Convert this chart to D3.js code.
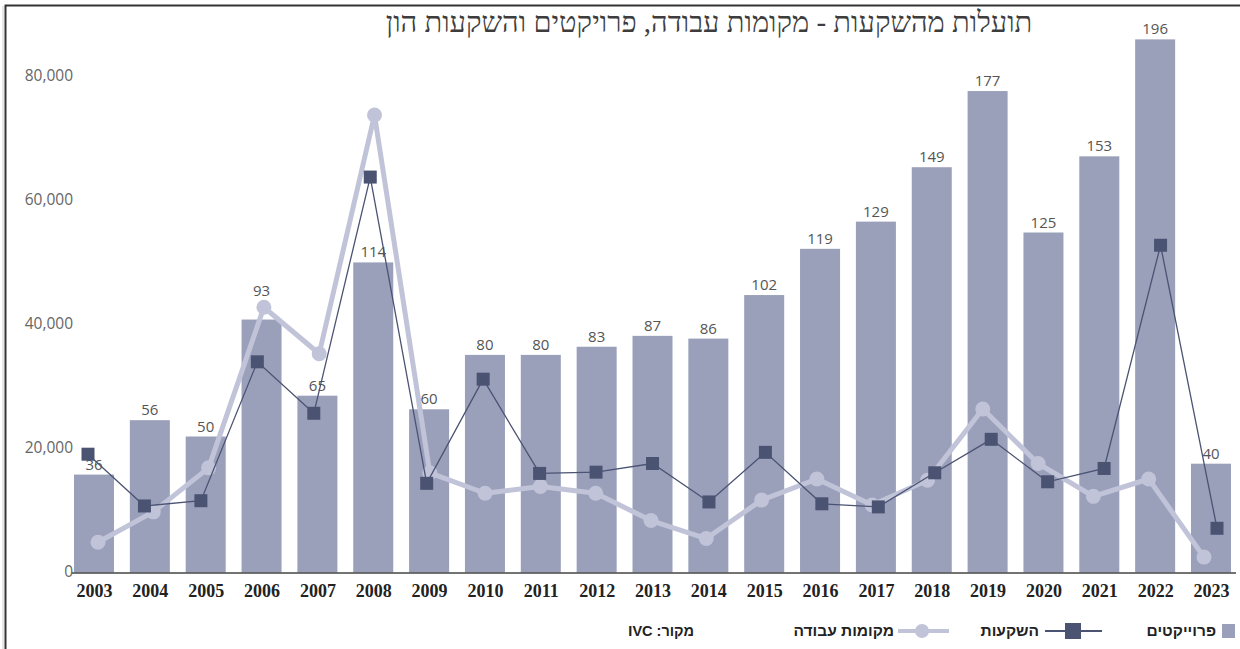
<!DOCTYPE html>
<html>
<head>
<meta charset="utf-8">
<script src="https://cdn.jsdelivr.net/npm/d3@7"></script>
<style>
  body { margin: 0; background: #fff; }
  svg { display: block; }
  .heb { direction: rtl; unicode-bidi: embed; }
</style>
</head>
<body>
<svg id="chart" width="1240" height="649"></svg>
<script>
// data
var years = ["2003","2004","2005","2006","2007","2008","2009","2010","2011","2012","2013",
             "2014","2015","2016","2017","2018","2019","2020","2021","2022","2023"];
var projects = [36,56,50,93,65,114,60,80,80,83,87,86,102,119,129,149,177,125,153,196,40];
var investments = [19000,10650,11500,33900,25600,63700,14300,31100,15900,16100,17500,
                   11300,19300,11000,10500,16000,21400,14550,16700,52700,7050];
var jobs = [4800,9700,16800,42700,35200,73700,16000,12700,13800,12700,8300,
            5400,11600,15000,10800,14800,26300,17500,12200,15000,2400];
var yTicks = [0,20000,40000,60000,80000];

var title = "תועלות מהשקעות - מקומות עבודה, פרויקטים והשקעות הון";
var legendItems = [
  {name: "פרוייקטים", kind: "bar"},
  {name: "השקעות", kind: "square"},
  {name: "מקומות עבודה", kind: "circle"}
];
var source = "מקור: IVC";

var barColor = "#9a9fba", darkColor = "#4b5373", lightColor = "#c1c4d8";

var svg = d3.select("#chart");

// frame
svg.append("line").attr("x1",3).attr("x2",3).attr("y1",6).attr("y2",649)
   .attr("stroke","#d0d0d0").attr("stroke-width",1);
svg.append("path").attr("d","M5.5,649 V5.5 H1240")
   .attr("fill","none").attr("stroke","#333").attr("stroke-width",2);

// scales (the bars and the two lines sit on slightly different x positions in the original)
var xBar = d3.scalePoint().domain(years).range([94, 1211]);
var xJobs = d3.scalePoint().domain(years).range([98, 1204]);
var xInv = d3.scalePoint().domain(years).range([88, 1217]);
var y = d3.scaleLinear().domain([0, 80000]).range([572, 76]);
var yBar = d3.scaleLinear().domain([0, 200]).range([572.5, 28.5]);
var barW = 40;

// y axis labels
var yAxis = svg.append("g").attr("transform","translate(73,0)")
  .call(d3.axisLeft(y).tickValues(yTicks).tickFormat(d3.format(",")).tickSize(0).tickPadding(0));
yAxis.select(".domain").remove();
yAxis.selectAll("text").attr("font-family","'Open Sans', sans-serif").attr("font-size",15.5)
  .attr("fill","#666");

// bars
svg.append("g").selectAll("rect").data(projects).enter().append("rect")
  .attr("x", function(d,i){ return xBar(years[i]) - barW/2; })
  .attr("y", function(d){ return yBar(d); })
  .attr("width", barW)
  .attr("height", function(d){ return yBar(0) - yBar(d); })
  .attr("fill", barColor);

// value labels; pushed above the jobs marker when it sits on the bar top
svg.append("g").selectAll("text").data(projects).enter().append("text")
  .attr("x", function(d,i){ return xBar(years[i]); })
  .attr("y", function(d,i){
    var top = yBar(d), cy = y(jobs[i]);
    if (cy > top - 22 && cy < top + 12) return cy - 11;
    return top - 5;
  })
  .attr("text-anchor","middle")
  .attr("font-family","'Open Sans', sans-serif").attr("font-size",15).attr("fill","#555")
  .text(function(d){ return d; });

// x axis
var xAxis = svg.append("g").attr("transform","translate(0,573)")
  .call(d3.axisBottom(xBar).tickSize(0).tickPadding(11));
xAxis.select(".domain").remove();
xAxis.selectAll("text").attr("font-family","'Liberation Serif', serif").attr("font-weight","bold")
  .attr("font-size",18).attr("fill","#222");
svg.append("line")
  .attr("x1", xBar(years[0]) - 22).attr("x2", xBar(years[years.length-1]) + 25)
  .attr("y1", 573).attr("y2", 573).attr("stroke","#444").attr("stroke-width",1.5);

// jobs line
var jobsLine = d3.line().x(function(d,i){ return xJobs(years[i]); }).y(function(d){ return y(d); });
svg.append("path").datum(jobs).attr("d", jobsLine)
  .attr("fill","none").attr("stroke",lightColor).attr("stroke-width",5).attr("stroke-linejoin","round");
svg.append("g").selectAll("circle").data(jobs).enter().append("circle")
  .attr("cx", function(d,i){ return xJobs(years[i]); })
  .attr("cy", function(d){ return y(d); })
  .attr("r", 7.5).attr("fill", lightColor);

// investments line
var invLine = d3.line().x(function(d,i){ return xInv(years[i]); }).y(function(d){ return y(d); });
svg.append("path").datum(investments).attr("d", invLine)
  .attr("fill","none").attr("stroke",darkColor).attr("stroke-width",1.3);
svg.append("g").selectAll("rect").data(investments).enter().append("rect")
  .attr("x", function(d,i){ return xInv(years[i]) - 6.5; })
  .attr("y", function(d){ return y(d) - 6.5; })
  .attr("width", 13).attr("height", 13).attr("fill", darkColor);

// title
svg.append("text").attr("class","heb")
  .attr("x", 709).attr("y", 32).attr("text-anchor","middle")
  .attr("font-family","'Liberation Serif', serif").attr("font-size",29).attr("fill","#3d3d3d")
  .text(title);

// legend
var lg = svg.append("g").attr("font-family","'Liberation Sans', Arial, sans-serif")
  .attr("font-weight","bold").attr("font-size",15.5).attr("fill","#222");
var ly = 631;
// projects
lg.append("rect").attr("x",1222).attr("y",ly-7).attr("width",13).attr("height",14).attr("fill",barColor);
lg.append("text").attr("class","heb").attr("x",1216).attr("y",ly+5).attr("text-anchor","start").text(legendItems[0].name);
// investments
lg.append("line").attr("x1",1045).attr("x2",1102).attr("y1",ly).attr("y2",ly).attr("stroke",darkColor).attr("stroke-width",2);
lg.append("rect").attr("x",1065).attr("y",ly-8).attr("width",16).attr("height",16).attr("fill",darkColor);
lg.append("text").attr("class","heb").attr("x",1039).attr("y",ly+5).attr("text-anchor","start").text(legendItems[1].name);
// jobs
lg.append("line").attr("x1",898).attr("x2",949).attr("y1",ly).attr("y2",ly).attr("stroke",lightColor).attr("stroke-width",4);
lg.append("circle").attr("cx",922).attr("cy",ly).attr("r",7).attr("fill",lightColor);
lg.append("text").attr("class","heb").attr("x",894).attr("y",ly+5).attr("text-anchor","start").text(legendItems[2].name);
// source
svg.append("text").attr("class","heb").attr("x",694).attr("y",ly+5).attr("text-anchor","start")
  .attr("font-family","'Liberation Sans', Arial, sans-serif").attr("font-weight","bold")
  .attr("font-size",14.5).attr("fill","#222").text(source);
</script>
</body>
</html>
